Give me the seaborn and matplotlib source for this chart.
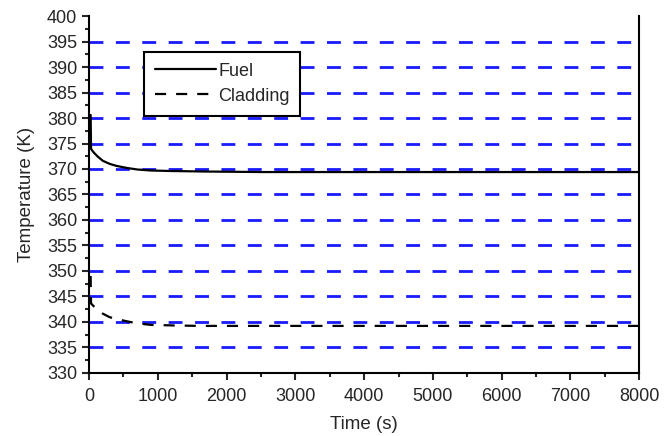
import numpy as np
import pandas as pd
import matplotlib
matplotlib.use('Agg')
import matplotlib.pyplot as plt
from matplotlib.ticker import MultipleLocator
import seaborn as sns

# values
fuel_time = [22, 28, 40, 70, 120, 200, 300, 400, 550, 700, 900, 1200, 1700, 2500, 8000]
fuel_temp = [380.6, 374.0, 373.7, 373.2, 372.5, 371.6, 371.0, 370.6, 370.2, 369.9, 369.7, 369.6, 369.5, 369.4, 369.4]
clad_time = [22, 28, 50, 100, 200, 300, 450, 550, 700, 900, 1200, 1600, 8000]
clad_temp = [349.0, 343.6, 343.3, 342.6, 341.6, 340.9, 340.4, 340.1, 339.7, 339.4, 339.3, 339.2, 339.2]
grid_levels = [335, 340, 345, 350, 355, 360, 365, 370, 375, 380, 385, 390, 395]

df = pd.concat([
    pd.DataFrame({'time': fuel_time, 'temp': fuel_temp, 'part': 'Fuel'}),
    pd.DataFrame({'time': clad_time, 'temp': clad_temp, 'part': 'Cladding'}),
])

sns.set_style('ticks')
plt.rcParams['font.family'] = ['Liberation Sans', 'DejaVu Sans']

fig = plt.figure(figsize=(6.7, 4.36), dpi=100)
ax = fig.add_axes([0.133, 0.145, 0.821, 0.818])

for lvl in grid_levels:
    ax.axhline(lvl, color='#1a1aff', lw=2, ls=(0, (5, 4.5)), zorder=1)

sns.lineplot(data=df, x='time', y='temp', hue='part', style='part',
             palette={'Fuel': 'black', 'Cladding': 'black'},
             dashes={'Fuel': '', 'Cladding': (5, 4.5)},
             estimator=None, sort=False, lw=1.6, ax=ax, zorder=3)

ax.set_xlim(0, 8000)
ax.set_ylim(330, 400)
ax.xaxis.set_major_locator(MultipleLocator(1000))
ax.xaxis.set_minor_locator(MultipleLocator(500))
ax.yaxis.set_major_locator(MultipleLocator(5))
ax.yaxis.set_minor_locator(MultipleLocator(2.5))
ax.tick_params(which='major', length=5, width=1.5, labelsize=13, direction='out')
ax.tick_params(axis='x', which='major', pad=6)
ax.tick_params(which='minor', length=3, width=1.5, direction='out')
ax.set_xlabel('Time (s)', fontsize=13.5, labelpad=8)
ax.set_ylabel('Temperature (K)', fontsize=13.5, labelpad=9)

ax.spines['top'].set_visible(False)
for s in ['left', 'bottom', 'right']:
    ax.spines[s].set_linewidth(1.5)
    ax.spines[s].set_color('black')

leg = ax.legend(loc='upper left', bbox_to_anchor=(0.1, 0.9), borderaxespad=0,
                fontsize=13, handlelength=3.4, handletextpad=0.1, frameon=True,
                fancybox=False, edgecolor='black', framealpha=1, borderpad=0.6,
                labelspacing=0.45)
leg.get_frame().set_linewidth(1.5)
leg.set_zorder(5)

fig.savefig('out.png', dpi=100)
